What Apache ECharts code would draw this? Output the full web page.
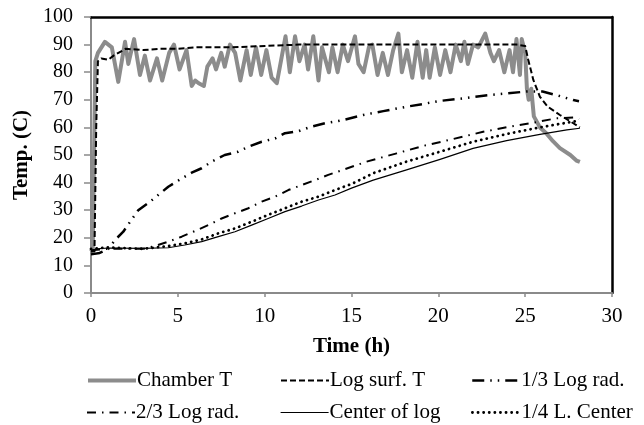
<!DOCTYPE html>
<html><head><meta charset="utf-8">
<script src="https://cdn.jsdelivr.net/npm/echarts@6/dist/echarts.min.js"></script>
<style>html,body{margin:0;padding:0;background:#fff}#c{width:644px;height:425px}</style>
</head><body><div id="c"></div>
<script>
// ---- data (time in h, temperature in C) ----
const chamberTime = [0.0,0.1,0.25,0.4,0.8,1.2,1.57,1.96,2.15,2.48,2.82,3.1,3.4,3.8,4.1,4.5,4.78,5.1,5.5,5.8,6.0,6.2,6.5,6.7,7.0,7.2,7.5,7.7,8.0,8.3,8.6,8.96,9.2,9.5,9.8,10.1,10.4,10.7,11.2,11.45,11.75,12.0,12.3,12.5,12.8,13.1,13.3,13.7,13.9,14.2,14.5,14.8,15.2,15.4,15.7,16.0,16.2,16.5,16.8,17.1,17.4,17.7,17.9,18.2,18.5,18.8,19.1,19.3,19.5,19.8,20.1,20.4,20.7,21.0,21.3,21.5,21.7,22.0,22.3,22.7,23.0,23.2,23.5,23.8,24.1,24.3,24.5,24.7,24.8,25.0,25.1,25.2,25.35,25.5,25.85,26.2,26.6,27.0,27.6,27.95,28.15];
const chamberTemp = [15,16,84,87,91,89,76.5,91,83,92,79,86,77,85,77,87,90,81,88,75,77,76,75,82,85,81,87,82,90,87,77,88,79,89,79,88,78,76,93,80,93,84,90,81,93,77,89,80,89,80,90,84,93,83,80,89,90,79,87,79,88,94,80,88,78,91,78,88,78,89,79,88,80,90,84,91,83,90,89,94,87,84,88,80,88,80,92,79,92,87,74,70,74,64,60,58,55,52.5,50,48,47.5];

const surfTime = [0,0.2,0.3,0.4,0.6,1.0,1.3,2.0,3,4,5,6,8,10,12,15,20,24.5,25.0,25.18,25.47,25.85,26.3,27.0,27.77,28.15];
const surfTemp = [15,15,60,84,85,84.5,86,88.5,88,88.5,88.5,89,89,89.5,90,90,90,90,89.5,84.4,77.2,71.1,67.5,64.5,61.5,60];

const rad13Time = [0,0.5,1.0,1.38,1.86,2.25,2.72,3.4,3.87,4.45,5.22,5.8,6.37,6.95,7.7,8.48,9.06,9.83,10.6,11.17,11.93,12.7,13.47,14.05,14.6,15.68,16.83,18.17,19.13,20.1,21.43,22.6,23.9,25.08,26.0,26.8,27.77,28.1];
const rad13Temp = [14,14.5,16,19.2,22.2,25.8,30,33.1,35.5,38.5,41.5,43.6,45.2,47.6,50,51.2,53,54.8,56,57.9,58.6,60.3,61.5,62.1,62.8,64.5,65.9,67.5,68.5,69.6,70.5,71.5,72.3,73,73,71.7,69.9,69.5];

const rad23Time = [0,1,2,3,3.68,4.45,5.22,5.89,6.75,7.52,8.29,9.06,9.83,10.6,11.36,12.13,12.9,13.66,14.5,15.87,17.6,19.13,20.86,22.58,24.12,25.46,26.8,27.77,28.1];
const rad23Temp = [15.5,16,16,16,17,18.6,20.4,22.2,24.6,27,28.9,30.7,33.1,34.9,37.3,39.1,40.9,42.8,44.6,47.6,50.6,53.3,55.8,58.4,60.3,61.7,63.3,63.6,63];

const centerTime = [0,0.3,1,2.9,4.45,5.4,6.37,7.33,8.29,9.25,10.2,11.17,12.13,13.1,14.05,15.0,16.25,18.17,20.1,22.0,23.93,25.85,27.4,28.15];
const centerTemp = [15,16,16.3,16.2,16.4,17.4,18.6,20.4,22.2,24.6,27,29.5,31.5,33.7,35.5,38,40.9,44.6,48.4,52.4,55.2,57.5,59.1,59.7];

const quarterTime = [0,1,3,4.45,5.4,6.37,7.33,8.29,9.25,10.2,11.17,12.13,13.1,14.05,15.0,16.25,18.17,20.1,22.0,23.93,25.85,27.4,28.1];
const quarterTemp = [16,16.5,16,17,18,19.4,21.6,23.4,25.8,28.3,30.7,33.1,34.9,37.3,39.5,43.4,47.6,51.2,54.8,57.6,60,61.7,62.4];

const seriesNames = ['Chamber T','Log surf. T','1/3 Log rad.','2/3 Log rad.','Center of log','1/4 L. Center'];
const xTicks = [0,5,10,15,20,25,30];
const yTicks = [0,10,20,30,40,50,60,70,80,90,100];

const zip = (a,b) => a.map((t,i)=>[t,b[i]]);
const FONT = 'Liberation Serif';

const styles = [
  {color:'#8c8c8c', width:4, type:'solid'},
  {color:'#000', width:2, type:[6,3]},
  {color:'#000', width:2.5, type:[12,6,1.5,6,1.5,6]},
  {color:'#000', width:2, type:[9,6,1.5,6]},
  {color:'#000', width:1.2, type:'solid'},
  {color:'#000', width:2.8, type:[0.1,5.5], cap:'round'}
];
const datas = [zip(chamberTime,chamberTemp),zip(surfTime,surfTemp),zip(rad13Time,rad13Temp),zip(rad23Time,rad23Temp),zip(centerTime,centerTemp),zip(quarterTime,quarterTemp)];

const series = seriesNames.map((n,i)=>({
  name:n, type:'line', data:datas[i], symbol:'none', showSymbol:false,
  xAxisIndex:0, yAxisIndex:0, animation:false, z: i===0?2:3,
  lineStyle:{color:styles[i].color, width:styles[i].width, type:styles[i].type, cap:styles[i].cap||'butt', join:'round'},
  itemStyle:{color:styles[i].color}
}));

const legendPos = [[86,370],[280,370],[471,370],[86,402],[280,402],[471,402]];
const legends = seriesNames.map((n,i)=>({
  data:[n], left:legendPos[i][0], top:legendPos[i][1], itemWidth:48, itemHeight:20, itemGap:0,
  padding:0, selectedMode:false,
  itemStyle:{opacity:0, borderWidth:0},
  lineStyle:{width:styles[i].width, type:styles[i].type, cap:styles[i].cap||'butt'},
  textStyle:{fontFamily:FONT, fontSize:21, color:'#000', padding:[0,0,0,-4]}
}));

const chart = echarts.init(document.getElementById('c'), null, {renderer:'canvas'});
chart.setOption({
  animation:false,
  backgroundColor:'#fff',
  grid:{left:91, right:32, top:17, bottom:132, containLabel:false},
  xAxis:[{
    type:'value', min:0, max:30, interval:5, position:'bottom',
    name:'Time (h)', nameLocation:'middle', nameGap:43,
    nameTextStyle:{fontFamily:FONT, fontSize:21, fontWeight:'bold', color:'#000'},
    axisLine:{show:true, onZero:false, lineStyle:{color:'#8a8a8a', width:2}},
    axisTick:{show:true, length:4, lineStyle:{color:'#8a8a8a', width:1.5}},
    axisLabel:{fontFamily:FONT, fontSize:21, color:'#000', margin:13, formatter:v=>xTicks.includes(v)?String(v):''},
    splitLine:{show:false}
  },{
    type:'value', min:0, max:30, position:'top',
    axisLine:{show:true, onZero:false, lineStyle:{color:'#000', width:2.5}},
    axisTick:{show:false}, axisLabel:{show:false}, splitLine:{show:false}
  }],
  yAxis:[{
    type:'value', min:0, max:100, interval:10, position:'left',
    name:'Temp. (C)', nameLocation:'middle', nameGap:55, nameRotate:90,
    nameTextStyle:{fontFamily:FONT, fontSize:21, fontWeight:'bold', color:'#000'},
    axisLine:{show:true, onZero:false, lineStyle:{color:'#8a8a8a', width:2}},
    axisTick:{show:true, length:7, lineStyle:{color:'#8a8a8a', width:1.5}},
    axisLabel:{fontFamily:FONT, fontSize:20, color:'#000', margin:18, formatter:v=>yTicks.includes(v)?String(v):''},
    splitLine:{show:false}
  },{
    type:'value', min:0, max:100, position:'right',
    axisLine:{show:true, onZero:false, lineStyle:{color:'#000', width:2.5}},
    axisTick:{show:false}, axisLabel:{show:false}, splitLine:{show:false}
  }],
  legend:legends,
  series:series
});
</script></body></html>
